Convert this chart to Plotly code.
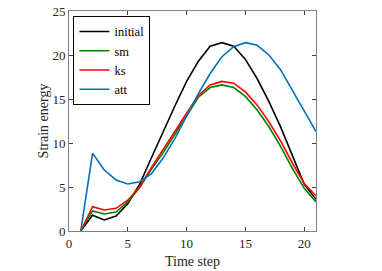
import plotly.graph_objects as go

time_step = list(range(1, 22))
initial = [0, 1.8, 1.25, 1.7, 3.1, 5.3, 8.3, 11.3, 14.2, 17.0, 19.3, 21.0, 21.4, 21.0, 19.5, 17.3, 14.7, 11.8, 8.5, 5.3, 3.6]
sm = [0, 2.27, 1.93, 2.16, 3.3, 4.9, 7.0, 8.9, 11.0, 13.1, 15.2, 16.3, 16.6, 16.3, 15.3, 13.75, 11.85, 9.6, 7.1, 4.85, 3.3]
ks = [0, 2.77, 2.39, 2.58, 3.5, 5.0, 7.2, 9.2, 11.3, 13.4, 15.4, 16.6, 17.0, 16.8, 15.8, 14.3, 12.4, 10.2, 7.7, 5.4, 4.0]
att = [0, 8.83, 6.93, 5.8, 5.34, 5.6, 6.5, 8.3, 10.5, 13.0, 15.6, 17.9, 19.8, 20.95, 21.4, 21.1, 20.0, 18.3, 16.0, 13.75, 11.3]

series = [("initial", initial, "#000000"), ("sm", sm, "#008000"), ("ks", ks, "#FF0000"), ("att", att, "#0072BD")]

fig = go.Figure()
for name, vals, col in series:
    fig.add_trace(go.Scatter(x=time_step, y=vals, mode="lines", name=name,
                             line=dict(color=col, width=1.6)))

serif = "Liberation Serif"
font = dict(family=serif, size=13, color="#262626")
axis_common = dict(showgrid=False, zeroline=False, showline=True, linecolor="#808080", linewidth=1,
                   mirror="ticks", ticks="inside", ticklen=4, tickcolor="#404040",
                   tickfont=font, automargin=False)
fig.update_layout(
    width=382, height=271,
    margin=dict(l=69, r=66, t=11, b=40),
    paper_bgcolor="white", plot_bgcolor="white",
    font=font,
    showlegend=True,
    legend=dict(x=0.018, y=0.978, xanchor="left", yanchor="top", bgcolor="white",
                bordercolor="#000000", borderwidth=1,
                font=dict(family=serif, size=12.5, color="#000000"),
                itemwidth=30, tracegroupgap=0),
    xaxis=dict(range=[0, 21], tickvals=[0, 5, 10, 15, 20], title=dict(text="Time step", standoff=6,
               font=dict(family=serif, size=14, color="#262626")), **axis_common),
    yaxis=dict(range=[0, 25], tickvals=[0, 5, 10, 15, 20, 25], title=dict(text="Strain energy", standoff=0,
               font=dict(family=serif, size=14, color="#262626")), **axis_common),
)
fig.write_html("out.html", config={"displayModeBar": False},
               post_script="document.body.style.margin='0';document.body.style.overflow='hidden';")
